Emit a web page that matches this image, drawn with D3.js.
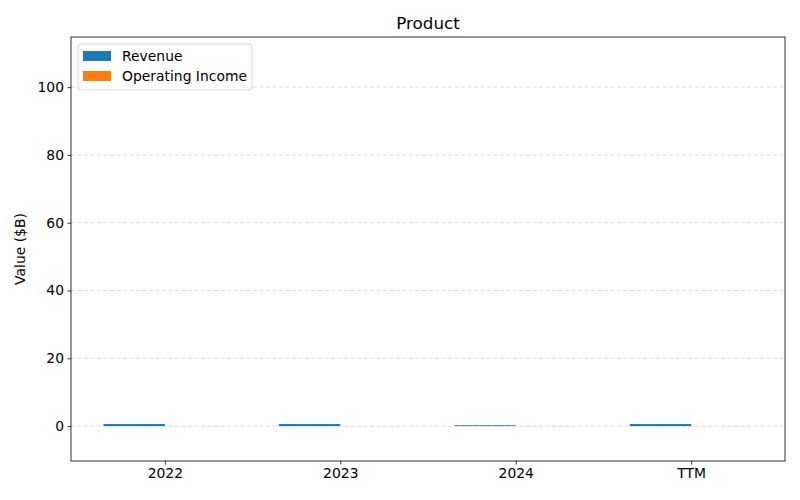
<!DOCTYPE html>
<html>
<head>
<meta charset="utf-8">
<script src="https://cdn.jsdelivr.net/npm/d3@7"></script>
<style>
  body { margin: 0; background: #fff; }
  text { font-family: "DejaVu Sans", sans-serif; }
</style>
</head>
<body>
<svg id="chart" width="800" height="500"></svg>
<script>
// Chart data
const categories = ["2022", "2023", "2024", "TTM"];
const revenue = [0.6, 0.6, 0.25, 0.6];
const operatingIncome = [0.02, 0.02, -0.03, 0.02];
const yTicks = [0, 20, 40, 60, 80, 100];
const seriesNames = ["Revenue", "Operating Income"];
const seriesColors = ["#1f77b4", "#ff7f0e"];

const svg = d3.select("#chart");
const plotL = 71, plotR = 785, plotT = 37, plotB = 461;
const barW = 0.35;
const fs = 13.9; // 10pt at 100 dpi

// x is a continuous index scale, like matplotlib's bar positions
let x = d3.scaleLinear().domain([-0.535, categories.length - 1 + 0.535]).range([plotL, plotR]);
let y = d3.scaleLinear().domain([-10.3, 114.8]).range([plotB, plotT]);

// Grid
svg.append("g").selectAll("line").data(yTicks).join("line")
  .attr("x1", plotL).attr("x2", plotR)
  .attr("y1", d => y(d)).attr("y2", d => y(d))
  .attr("stroke", "#b0b0b0").attr("stroke-opacity", 0.55)
  .attr("stroke-dasharray", "4,2.5").attr("stroke-width", 0.8);

// Bars
let allSeries = [revenue, operatingIncome];
allSeries.forEach((vals, s) => {
  svg.append("g").selectAll("rect").data(vals).join("rect")
    .attr("x", (d, i) => x(i - barW + s * barW))
    .attr("width", x(barW) - x(0))
    .attr("y", d => y(Math.max(d, 0)))
    .attr("height", d => Math.abs(y(d) - y(0)))
    .attr("fill", seriesColors[s]);
});

// Axes
let xAxis = d3.axisBottom(x).tickValues(d3.range(categories.length))
  .tickFormat(i => categories[i]).tickSize(3.5).tickPadding(3.5);
let yAxis = d3.axisLeft(y).tickValues(yTicks).tickSize(3.5).tickPadding(3.5);

let gx = svg.append("g").attr("transform", `translate(0,${plotB})`).call(xAxis);
let gy = svg.append("g").attr("transform", `translate(${plotL},0)`).call(yAxis);
[gx, gy].forEach(g => {
  g.select(".domain").remove();
  g.selectAll("text").attr("font-size", fs).attr("fill", "#000")
    .style("font-family", "DejaVu Sans, sans-serif");
  g.selectAll("line").attr("stroke", "#000").attr("stroke-width", 0.8);
});

// Frame
svg.append("rect").attr("x", plotL).attr("y", plotT)
  .attr("width", plotR - plotL).attr("height", plotB - plotT)
  .attr("fill", "none").attr("stroke", "#000").attr("stroke-width", 0.8);

// Title and label
svg.append("text").attr("x", (plotL + plotR) / 2).attr("y", 29)
  .attr("text-anchor", "middle").attr("font-size", 16.7).text("Product");
svg.append("text").attr("transform", `translate(25,${(plotT + plotB) / 2}) rotate(-90)`)
  .attr("text-anchor", "middle").attr("font-size", fs).text("Value ($B)");

// Legend
let lg = svg.append("g").attr("transform", "translate(78,44)");
lg.append("rect").attr("width", 174).attr("height", 46).attr("rx", 3)
  .attr("fill", "#fff").attr("fill-opacity", 0.8)
  .attr("stroke", "#ccc").attr("stroke-width", 0.8);
seriesNames.forEach((name, i) => {
  lg.append("rect").attr("x", 5).attr("y", 7 + i * 20)
    .attr("width", 28).attr("height", 10).attr("fill", seriesColors[i]);
  lg.append("text").attr("x", 44).attr("y", 17 + i * 20)
    .attr("font-size", fs).text(name);
});
</script>
</body>
</html>
